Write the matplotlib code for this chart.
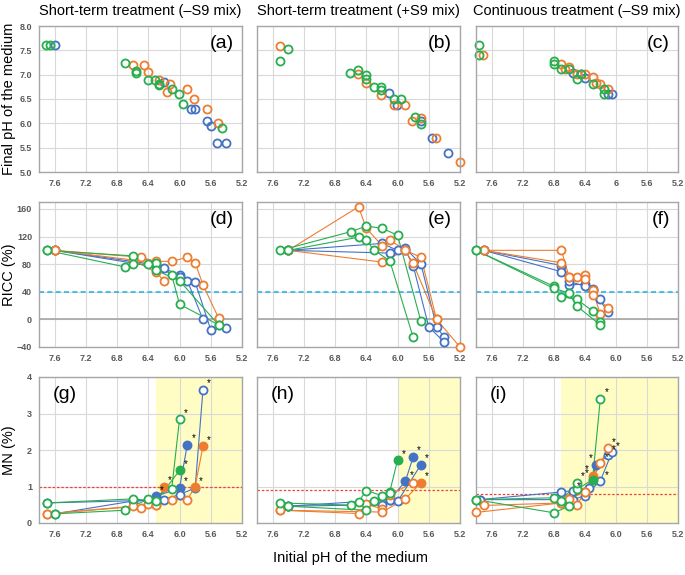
import matplotlib.pyplot as plt
from matplotlib.ticker import FormatStrFormatter

plt.rcParams['font.family'] = ['Liberation Sans', 'DejaVu Sans']

BLUE, ORANGE, GREEN = '#4472C4', '#ED7D31', '#27AE4F'

# ---------------- top row: final pH vs initial pH ----------------
a_blue_x = [7.6, 6.2, 5.85, 5.8, 5.65, 5.6, 5.52, 5.41]
a_blue_y = [7.6, 6.85, 6.3, 6.3, 6.05, 5.95, 5.6, 5.6]
a_orange_x = [6.6, 6.46, 6.41, 6.26, 6.16, 6.12, 5.91, 5.81, 5.65, 5.51]
a_orange_y = [7.2, 7.2, 7.05, 6.9, 6.65, 6.8, 6.7, 6.5, 6.3, 6.0]
a_green_x = [7.71, 7.66, 6.7, 6.56, 6.56, 6.41, 6.31, 6.26, 6.26, 6.1, 6.01, 5.96, 5.46]
a_green_y = [7.6, 7.6, 7.25, 7.08, 7.03, 6.9, 6.9, 6.8, 6.78, 6.7, 6.6, 6.4, 5.9]

b_blue_x = [6.11, 6.01, 5.7, 5.56, 5.35]
b_blue_y = [6.63, 6.38, 6.04, 5.7, 5.4]
b_orange_x = [7.51, 6.51, 6.41, 6.21, 6.05, 5.91, 5.81, 5.7, 5.51, 5.2]
b_orange_y = [7.59, 7.02, 6.83, 6.58, 6.38, 6.38, 6.04, 6.1, 5.7, 5.2]
b_green_x = [7.4, 7.51, 6.61, 6.51, 6.41, 6.41, 6.3, 6.21, 6.21, 6.05, 5.96, 5.77, 5.7]
b_green_y = [7.53, 7.29, 7.04, 7.09, 6.99, 6.92, 6.74, 6.74, 6.68, 6.49, 6.49, 6.14, 5.98]

c_blue_x = [6.55, 6.45, 6.4, 6.1, 6.05]
c_blue_y = [7.03, 7.01, 6.94, 6.6, 6.6]
c_orange_x = [7.71, 6.7, 6.65, 6.6, 6.5, 6.4, 6.3, 6.25, 6.2, 6.1]
c_orange_y = [7.41, 7.21, 7.12, 7.16, 7.01, 7.01, 6.95, 6.82, 6.8, 6.71]
c_green_x = [7.76, 7.76, 6.8, 6.8, 6.7, 6.6, 6.5, 6.45, 6.3, 6.15, 6.15]
c_green_y = [7.6, 7.41, 7.28, 7.21, 7.12, 7.12, 6.91, 7.01, 6.8, 6.71, 6.6]

# ---------------- middle row: RICC (%) ----------------
d_blue1_x = [7.6, 6.3, 6.2, 6.0, 5.9, 5.7]
d_blue1_y = [100, 79, 74, 64, 56, 0]
d_blue2_x = [7.6, 6.3, 6.0, 5.8, 5.6, 5.4]
d_blue2_y = [100, 76, 62, 54, -15, -13]
d_orange1_x = [7.6, 6.5, 6.3, 6.1, 5.9, 5.8, 5.7, 5.5]
d_orange1_y = [100, 90, 84, 84, 90, 82, 50, 2]
d_orange2_x = [7.6, 6.6, 6.3, 6.2]
d_orange2_y = [100, 86, 68, 56]
d_green1_x = [7.7, 6.6, 6.3, 6.1, 6.0, 5.5]
d_green1_y = [100, 92, 82, 64, 22, -8]
d_green2_x = [7.7, 6.7, 6.6, 6.4, 6.3, 6.0, 5.5]
d_green2_y = [100, 76, 80, 80, 71, 56, -8]

e_blue1_x = [7.4, 6.2, 6.0, 5.9, 5.7, 5.5, 5.4]
e_blue1_y = [100, 110, 100, 103, 80, -11, -26]
e_blue2_x = [7.4, 6.1, 5.9, 5.8, 5.6, 5.4]
e_blue2_y = [100, 96, 100, 78, -11, -33]
e_orange1_x = [7.4, 6.5, 6.4, 6.2, 6.1, 5.9, 5.7, 5.5, 5.2]
e_orange1_y = [100, 163, 132, 107, 115, 100, 90, 0, -40]
e_orange2_x = [7.4, 6.2, 5.9, 5.8, 5.5]
e_orange2_y = [100, 83, 100, 81, 0]
e_green1_x = [7.5, 6.6, 6.4, 6.2, 6.0, 5.7]
e_green1_y = [100, 127, 135, 132, 122, -3]
e_green2_x = [7.4, 6.5, 6.4, 6.3, 6.1, 5.8]
e_green2_y = [100, 119, 115, 100, 85, -26]

f_blue1_x = [7.7, 6.7, 6.6, 6.4, 6.3, 6.2]
f_blue1_y = [100, 78, 50, 51, 44, 29]
f_blue2_x = [7.7, 6.7, 6.6, 6.4, 6.3, 6.1]
f_blue2_y = [100, 69, 55, 48, 42, 11]
f_orange1_x = [7.7, 6.7, 6.6, 6.5, 6.4, 6.3, 6.2]
f_orange1_y = [100, 100, 61, 61, 64, 42, 8]
f_orange2_x = [7.7, 6.7, 6.6, 6.4, 6.3, 6.1]
f_orange2_y = [100, 82, 61, 58, 36, 17]
f_green1_x = [7.8, 6.8, 6.7, 6.5, 6.3, 6.2]
f_green1_y = [100, 48, 33, 29, 12, -4]
f_green2_x = [7.8, 6.8, 6.6, 6.5, 6.2]
f_green2_y = [100, 45, 38, 19, -8]

# ---------------- bottom row: MN (%) ----------------
# filled = significant point, star = asterisk next to it
g_blue1_x = [7.7, 6.4, 6.3, 6.0, 5.9]
g_blue1_y = [0.55, 0.62, 0.73, 0.96, 2.15]
g_blue1_filled = [0, 0, 1, 1, 1]
g_blue1_star = [0, 0, 1, 1, 1]
g_blue2_x = [7.6, 6.6, 6.2, 6.0, 5.8, 5.7]
g_blue2_y = [0.25, 0.6, 0.64, 0.78, 0.96, 3.65]
g_blue2_filled = [0, 0, 0, 0, 1, 0]
g_blue2_star = [0, 0, 0, 0, 1, 1]
g_orange1_x = [7.7, 6.6, 6.5, 6.4, 6.3, 6.2]
g_orange1_y = [0.25, 0.46, 0.41, 0.53, 0.48, 1.0]
g_orange1_filled = [0, 0, 0, 0, 0, 1]
g_orange1_star = [0, 0, 0, 0, 0, 1]
g_orange2_x = [7.7, 6.3, 6.1, 5.9, 5.8, 5.7]
g_orange2_y = [0.25, 0.5, 0.64, 0.64, 1.0, 2.1]
g_orange2_filled = [0, 0, 0, 0, 1, 1]
g_orange2_star = [0, 0, 0, 0, 0, 1]
g_green1_x = [7.6, 6.7, 6.4, 6.1, 6.0]
g_green1_y = [0.25, 0.35, 0.66, 0.94, 2.85]
g_green1_filled = [0, 0, 0, 0, 0]
g_green1_star = [0, 0, 0, 0, 1]
g_green2_x = [7.7, 6.6, 6.3, 6.0]
g_green2_y = [0.55, 0.66, 0.6, 1.44]
g_green2_filled = [0, 0, 0, 1]
g_green2_star = [0, 0, 0, 1]

h_blue1_x = [7.4, 6.2, 6.1, 5.9, 5.8]
h_blue1_y = [0.46, 0.5, 0.64, 1.14, 1.81]
h_blue1_filled = [0, 0, 0, 1, 1]
h_blue1_star = [0, 0, 0, 1, 1]
h_blue2_x = [7.4, 6.1, 6.0, 5.7]
h_blue2_y = [0.46, 0.64, 0.59, 1.6]
h_blue2_filled = [0, 0, 0, 1]
h_blue2_star = [0, 0, 0, 1]
h_orange1_x = [7.5, 6.5, 6.4, 6.2, 6.1, 5.8]
h_orange1_y = [0.35, 0.26, 0.51, 0.39, 0.78, 1.1]
h_orange1_filled = [0, 0, 0, 0, 0, 0]
h_orange1_star = [0, 0, 0, 0, 0, 0]
h_orange2_x = [7.5, 6.2, 5.9, 5.7]
h_orange2_y = [0.35, 0.3, 0.66, 1.1]
h_orange2_filled = [0, 0, 0, 1]
h_orange2_star = [0, 0, 0, 1]
h_green1_x = [7.5, 6.6, 6.5, 6.4, 6.2, 6.1, 6.0]
h_green1_y = [0.55, 0.49, 0.58, 0.89, 0.75, 0.85, 1.72]
h_green1_filled = [0, 0, 0, 0, 0, 0, 1]
h_green1_star = [0, 0, 0, 0, 0, 0, 1]
h_green2_x = [7.4, 6.4, 6.3, 6.1]
h_green2_y = [0.46, 0.35, 0.59, 0.82]
h_green2_filled = [0, 0, 0, 0]
h_green2_star = [0, 0, 0, 0]

i_blue1_x = [7.75, 6.7, 6.55, 6.35, 6.25, 6.1]
i_blue1_y = [0.64, 0.85, 0.89, 0.96, 1.6, 1.85]
i_blue1_filled = [0, 0, 0, 0, 1, 0]
i_blue1_star = [0, 0, 0, 0, 1, 1]
i_blue2_x = [7.75, 6.55, 6.4, 6.2, 6.05]
i_blue2_y = [0.64, 0.64, 0.75, 1.15, 1.94]
i_blue2_filled = [0, 0, 0, 0, 0]
i_blue2_star = [0, 0, 0, 1, 1]
i_orange1_x = [7.8, 6.7, 6.6, 6.4, 6.3, 6.2]
i_orange1_y = [0.29, 0.55, 0.66, 0.85, 1.3, 1.64]
i_orange1_filled = [0, 0, 0, 1, 1, 0]
i_orange1_star = [0, 0, 0, 1, 1, 1]
i_orange2_x = [7.7, 6.7, 6.5, 6.4, 6.3, 6.1]
i_orange2_y = [0.48, 0.55, 0.49, 0.85, 1.2, 2.05]
i_orange2_filled = [0, 0, 0, 0, 0, 0]
i_orange2_star = [0, 0, 0, 0, 0, 1]
i_green1_x = [7.8, 6.8, 6.6, 6.5, 6.3, 6.2]
i_green1_y = [0.64, 0.28, 0.46, 0.92, 1.19, 3.4]
i_green1_filled = [0, 0, 0, 0, 1, 0]
i_green1_star = [0, 0, 0, 0, 1, 1]
i_green2_x = [7.8, 6.8, 6.7, 6.5]
i_green2_y = [0.64, 0.69, 0.61, 1.1]
i_green2_filled = [0, 0, 0, 0]
i_green2_star = [0, 0, 0, 1]

col_titles = ['Short-term treatment (\u2013S9 mix)', 'Short-term treatment (+S9 mix)',
              'Continuous treatment (\u2013S9 mix)']
row_labels = ['Final pH of the medium', 'RICC (%)', 'MN (%)']
panel_letters = ['(a)', '(b)', '(c)', '(d)', '(e)', '(f)', '(g)', '(h)', '(i)']
x_ticks = [7.6, 7.2, 6.8, 6.4, 6.0, 5.6, 5.2]
mn_threshold = [1.0, 0.9, 0.8]
yellow_start = [6.3, 6.0, 6.7]
ricc_line = 40

scatter_panels = [
    [(a_blue_x, a_blue_y, BLUE), (a_orange_x, a_orange_y, ORANGE), (a_green_x, a_green_y, GREEN)],
    [(b_blue_x, b_blue_y, BLUE), (b_orange_x, b_orange_y, ORANGE), (b_green_x, b_green_y, GREEN)],
    [(c_blue_x, c_blue_y, BLUE), (c_orange_x, c_orange_y, ORANGE), (c_green_x, c_green_y, GREEN)],
]
ricc_panels = [
    [(d_blue1_x, d_blue1_y, BLUE), (d_blue2_x, d_blue2_y, BLUE), (d_orange1_x, d_orange1_y, ORANGE),
     (d_orange2_x, d_orange2_y, ORANGE), (d_green1_x, d_green1_y, GREEN), (d_green2_x, d_green2_y, GREEN)],
    [(e_blue1_x, e_blue1_y, BLUE), (e_blue2_x, e_blue2_y, BLUE), (e_orange1_x, e_orange1_y, ORANGE),
     (e_orange2_x, e_orange2_y, ORANGE), (e_green1_x, e_green1_y, GREEN), (e_green2_x, e_green2_y, GREEN)],
    [(f_blue1_x, f_blue1_y, BLUE), (f_blue2_x, f_blue2_y, BLUE), (f_orange1_x, f_orange1_y, ORANGE),
     (f_orange2_x, f_orange2_y, ORANGE), (f_green1_x, f_green1_y, GREEN), (f_green2_x, f_green2_y, GREEN)],
]
mn_panels = [
    [(g_blue1_x, g_blue1_y, g_blue1_filled, g_blue1_star, BLUE),
     (g_blue2_x, g_blue2_y, g_blue2_filled, g_blue2_star, BLUE),
     (g_orange1_x, g_orange1_y, g_orange1_filled, g_orange1_star, ORANGE),
     (g_orange2_x, g_orange2_y, g_orange2_filled, g_orange2_star, ORANGE),
     (g_green1_x, g_green1_y, g_green1_filled, g_green1_star, GREEN),
     (g_green2_x, g_green2_y, g_green2_filled, g_green2_star, GREEN)],
    [(h_blue1_x, h_blue1_y, h_blue1_filled, h_blue1_star, BLUE),
     (h_blue2_x, h_blue2_y, h_blue2_filled, h_blue2_star, BLUE),
     (h_orange1_x, h_orange1_y, h_orange1_filled, h_orange1_star, ORANGE),
     (h_orange2_x, h_orange2_y, h_orange2_filled, h_orange2_star, ORANGE),
     (h_green1_x, h_green1_y, h_green1_filled, h_green1_star, GREEN),
     (h_green2_x, h_green2_y, h_green2_filled, h_green2_star, GREEN)],
    [(i_blue1_x, i_blue1_y, i_blue1_filled, i_blue1_star, BLUE),
     (i_blue2_x, i_blue2_y, i_blue2_filled, i_blue2_star, BLUE),
     (i_orange1_x, i_orange1_y, i_orange1_filled, i_orange1_star, ORANGE),
     (i_orange2_x, i_orange2_y, i_orange2_filled, i_orange2_star, ORANGE),
     (i_green1_x, i_green1_y, i_green1_filled, i_green1_star, GREEN),
     (i_green2_x, i_green2_y, i_green2_filled, i_green2_star, GREEN)],
]

# ---------------- figure ----------------
W, H = 685, 575
fig = plt.figure(figsize=(W / 100, H / 100), dpi=100)

col_px = [(39, 242), (257, 460), (476, 678)]
row_px = [(26, 172), (202, 347), (377, 523)]

MS, MEW = 5.8, 1.3


def style_axes(ax, row, col):
    ax.set_xlim(7.8, 5.2)
    ax.set_xticks(x_ticks)
    labels = ['%.1f' % t for t in x_ticks]
    if row == 0 and col == 2:
        labels = ['6' if l == '6.0' else l for l in labels]
    ax.set_xticklabels(labels)
    ax.grid(True, color='#D9D9D9', lw=0.8)
    ax.set_axisbelow(True)
    for s in ax.spines.values():
        s.set_color('#A6A6A6')
        s.set_linewidth(1.0)
    ax.tick_params(length=0, labelsize=6.5, colors='#595959', pad=5)
    for lab in ax.get_xticklabels() + ax.get_yticklabels():
        lab.set_fontweight('bold')
    if col > 0:
        ax.set_yticklabels([])


for row in range(3):
    for col in range(3):
        x0, x1 = col_px[col]
        y0, y1 = row_px[row]
        ax = fig.add_axes([x0 / W, 1 - y1 / H, (x1 - x0) / W, (y1 - y0) / H])

        if row == 0:
            ax.set_ylim(5, 8)
            ax.set_yticks([5.0, 5.5, 6.0, 6.5, 7.0, 7.5, 8.0])
            ax.yaxis.set_major_formatter(FormatStrFormatter('%.1f'))
            for xs, ys, c in scatter_panels[col]:
                ax.plot(xs, ys, 'o', ls='none', mfc='none', mec=c, ms=MS, mew=MEW, clip_on=False)
        elif row == 1:
            ax.set_ylim(-40, 170)
            ax.set_yticks([-40, 0, 40, 80, 120, 160])
            ax.axhline(0, color='#A6A6A6', lw=1.2, zorder=1)
            ax.axhline(ricc_line, color='#2FB5E3', lw=1.2, dashes=(3, 2), zorder=1)
            for xs, ys, c in ricc_panels[col]:
                ax.plot(xs, ys, '-', color=c, lw=0.8, zorder=2, clip_on=False)
                ax.plot(xs, ys, 'o', ls='none', mfc='white', mec=c, ms=MS, mew=MEW, zorder=3,
                        clip_on=False)
        else:
            ax.set_ylim(0, 4)
            ax.set_yticks([0, 1, 2, 3, 4])
            ax.axvspan(yellow_start[col], 5.2, color='#FFFDC4', zorder=0, lw=0)
            ax.axhline(mn_threshold[col], color='#F0403A', lw=0.9, dashes=(2, 1.5), zorder=1)
            for xs, ys, filled, star, c in mn_panels[col]:
                ax.plot(xs, ys, '-', color=c, lw=0.8, zorder=2, clip_on=False)
                for xv, yv, f, s in zip(xs, ys, filled, star):
                    ax.plot(xv, yv, 'o', mfc=c if f else 'white', mec=c, ms=MS, mew=MEW, zorder=3,
                            clip_on=False)
                    if s:
                        # in the crowded panel (i) stars of filled points sit on the left
                        left = col == 2 and f
                        ax.annotate('*', (xv, yv), xytext=(-3 if left else 3, 1),
                                    textcoords='offset points', fontsize=7, color='black',
                                    ha='right' if left else 'left', va='bottom', zorder=4)

        style_axes(ax, row, col)

        letter = panel_letters[row * 3 + col]
        if row < 2:
            ax.text(0.96, 0.88, letter, transform=ax.transAxes, ha='right', va='center', fontsize=14)
        else:
            ax.text(0.07, 0.88, letter, transform=ax.transAxes, ha='left', va='center', fontsize=14)

        if row == 0:
            fig.text((x0 + x1) / 2 / W, 1 - 11 / H, col_titles[col], ha='center', va='center', fontsize=10.5)
        if col == 0:
            fig.text(9 / W, 1 - (y0 + y1) / 2 / H, row_labels[row], rotation=90,
                     ha='center', va='center', fontsize=10.5)

fig.text(350 / W, 1 - 558 / H, 'Initial pH of the medium', ha='center', va='center', fontsize=10.5)

fig.savefig('out.png', dpi=100)
